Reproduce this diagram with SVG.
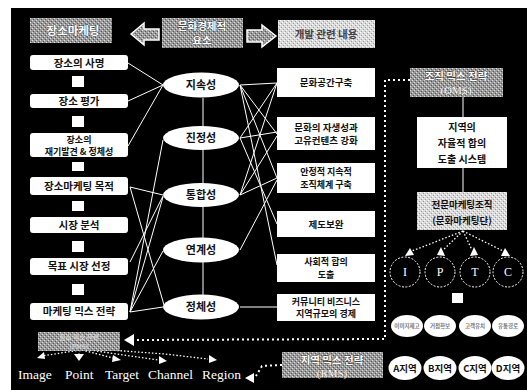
<svg xmlns="http://www.w3.org/2000/svg" width="527" height="390" viewBox="0 0 527 390">
<defs>
<pattern id="g1" width="4" height="4" patternUnits="userSpaceOnUse">
<rect width="4" height="4" fill="#9a9a9a"/>
<rect x="0" y="0" width="1" height="1" fill="#dedede"/>
<rect x="2" y="2" width="1" height="1" fill="#dedede"/>
<rect x="1" y="3" width="1" height="1" fill="#555"/>
<rect x="3" y="1" width="1" height="1" fill="#555"/>
</pattern>
<pattern id="g2" width="4" height="4" patternUnits="userSpaceOnUse">
<rect width="4" height="4" fill="#dadada"/>
<rect x="0" y="0" width="1" height="1" fill="#fff"/>
<rect x="2" y="2" width="1" height="1" fill="#fff"/>
<rect x="1" y="3" width="1" height="1" fill="#9a9a9a"/>
<rect x="3" y="1" width="1" height="1" fill="#9a9a9a"/>
</pattern>
<style>
.wbox{fill:#fff}
.gbox{fill:url(#g1)}
.lbox{fill:url(#g2)}
.kt{font-family:"Noto Sans CJK KR","Noto Sans",sans-serif;font-weight:700;fill:#111;text-anchor:middle}
.wt{fill:#fff;stroke:#333;stroke-width:0.7;paint-order:stroke}
.ws{fill:#fff;stroke:#444;stroke-width:0.4;paint-order:stroke}
.sf{font-family:"Liberation Serif","DejaVu Serif",serif}
.ln{stroke:#fff;stroke-width:1;fill:none}
.dot{stroke:#fff;stroke-width:2;stroke-dasharray:2 3;fill:none}
.sdot{stroke:#fff;stroke-width:1.3;stroke-dasharray:1.5 2;fill:none}
.tri{fill:#fff}
.sq{fill:#fff}
.cir{fill:none;stroke:#fff;stroke-width:1;stroke-dasharray:2 1.5}
</style>
</defs>
<rect x="11" y="8" width="516" height="382" fill="#000"/>

<g id="connectors">
<line class="ln" x1="128" y1="63" x2="163" y2="85"/>
<line class="ln" x1="128" y1="101" x2="163" y2="85"/>
<line class="ln" x1="128" y1="146" x2="163" y2="85"/>
<line class="ln" x1="130" y1="187" x2="163" y2="195"/>
<line class="ln" x1="130" y1="187" x2="164" y2="305"/>
<line class="ln" x1="130" y1="262" x2="163" y2="196"/>
<line class="ln" x1="130" y1="312" x2="163" y2="140"/>
<line class="ln" x1="130" y1="312" x2="163" y2="197"/>
<line class="ln" x1="130" y1="312" x2="163" y2="251"/>
<line class="ln" x1="130" y1="312" x2="163" y2="307"/>
<line class="ln" x1="203" y1="98" x2="203" y2="295"/>
<line class="ln" x1="240" y1="85" x2="277" y2="83"/>
<line class="ln" x1="240" y1="85" x2="277" y2="134"/>
<line class="ln" x1="240" y1="85" x2="277" y2="178"/>
<line class="ln" x1="240" y1="85" x2="277" y2="265"/>
<line class="ln" x1="240" y1="138" x2="277" y2="83"/>
<line class="ln" x1="240" y1="138" x2="277" y2="132"/>
<line class="ln" x1="240" y1="138" x2="277" y2="224"/>
<line class="ln" x1="240" y1="195" x2="277" y2="83"/>
<line class="ln" x1="240" y1="195" x2="277" y2="136"/>
<line class="ln" x1="240" y1="195" x2="277" y2="178"/>
<line class="ln" x1="240" y1="250" x2="277" y2="180"/>
<line class="ln" x1="240" y1="307" x2="277" y2="307"/>
<line class="ln" x1="463" y1="97" x2="463" y2="117"/>
<line class="ln" x1="463" y1="168" x2="463" y2="192"/>
<polyline class="dot" points="410,80 385,80 385,339 135,340"/>
<polygon class="tri" points="124,340 134,334 134,346"/>
<polyline class="dot" points="282,365 262,366 256,376"/>
<polygon class="tri" points="245,378 254,373 254,383"/>
<polyline class="sdot" points="80,350 42,356"/>
<polygon class="tri" points="37,358 44,352 45,359"/>
<line class="sdot" x1="80" y1="350" x2="79" y2="354"/>
<polygon class="tri" points="79,361 74,354 84,354"/>
<polyline class="sdot" points="82,350 113,358"/>
<polygon class="tri" points="121,360 113,355 112,362"/>
<polyline class="sdot" points="90,350 158,360"/>
<polygon class="tri" points="167,361 159,356 159,364"/>
<polyline class="sdot" points="110,350 165,354 208,359"/>
<polygon class="tri" points="217,360 209,355 209,363"/>
<line class="sdot" x1="463" y1="231" x2="412" y2="251"/>
<line class="sdot" x1="463" y1="231" x2="443" y2="250"/>
<line class="sdot" x1="463" y1="231" x2="472" y2="250"/>
<line class="sdot" x1="463" y1="231" x2="503" y2="251"/>
<polygon class="tri" points="410,248 405,256 414,255"/>
<polygon class="tri" points="441,247 437,255 445,256"/>
<polygon class="tri" points="474,247 470,256 478,255"/>
<polygon class="tri" points="505,248 501,256 510,256"/>
</g>

<g id="header-left">
<rect class="gbox" x="30" y="18" width="82" height="25"/>
<text class="kt wt" x="73" y="35" font-size="11.5">장소마케팅</text>
</g>
<g id="arrow-left">
<polygon points="131,34 144,23 144,29 159,29 159,40 144,40 144,45" fill="url(#g1)" stroke="#fff" stroke-width="1.5"/>
</g>
<g id="header-mid">
<rect class="gbox" x="162" y="18" width="81" height="30"/>
<text class="kt wt" x="202" y="30" font-size="10.5">문화경제적</text>
<text class="kt wt" x="202" y="44" font-size="10.5">요소</text>
</g>
<g id="arrow-right">
<polygon points="276,36 262,25 262,30 247,30 247,42 262,42 262,47" fill="url(#g1)" stroke="#fff" stroke-width="1.5"/>
</g>
<g id="header-right">
<rect class="lbox" x="278" y="20" width="97" height="28"/>
<text class="kt" x="326" y="38" font-size="10.5" style="fill:#444">개발 관련 내용</text>
</g>

<g id="left-steps">
<rect class="wbox" x="30" y="55" width="98" height="15" rx="3"/>
<text class="kt" x="79" y="67" font-size="10.5">장소의 사명</text>
<rect class="sq" x="72" y="76" width="12" height="11"/>
<rect class="wbox" x="30" y="94" width="98" height="14" rx="3"/>
<text class="kt" x="79" y="105" font-size="10.5">장소 평가</text>
<rect class="sq" x="72" y="116" width="12" height="11"/>
<rect class="wbox" x="30" y="133" width="98" height="24" rx="3"/>
<text class="kt" x="79" y="143" font-size="9">장소의</text>
<text class="kt" x="79" y="155" font-size="9">재기발견 &amp; 정체성</text>
<rect class="sq" x="72" y="162" width="12" height="9"/>
<rect class="wbox" x="30" y="177" width="98" height="18" rx="3"/>
<text class="kt" x="79" y="190" font-size="10.5">장소마케팅 목적</text>
<rect class="sq" x="72" y="201" width="12" height="10"/>
<rect class="wbox" x="30" y="217" width="98" height="16" rx="3"/>
<text class="kt" x="79" y="229" font-size="10.5">시장 분석</text>
<rect class="sq" x="72" y="241" width="12" height="11"/>
<rect class="wbox" x="30" y="258" width="98" height="17" rx="3"/>
<text class="kt" x="79" y="270" font-size="10.5">목표 시장 선정</text>
<rect class="sq" x="72" y="284" width="12" height="11"/>
<rect class="wbox" x="30" y="303" width="98" height="17" rx="3"/>
<text class="kt" x="79" y="315" font-size="10.5">마케팅 믹스 전략</text>
</g>

<g id="left-mix">
<rect class="gbox" x="38" y="332" width="82" height="19"/>
<text class="kt" x="79" y="340" font-size="6.5" style="fill:#cfcfcf">장소 믹스 전략</text>
<text class="kt" x="79" y="349" font-size="6.5" style="fill:#cfcfcf">(PMS)</text>
</g>
<g id="mix-labels" class="sf" font-size="13.5" fill="#fff">
<text x="18" y="379">Image</text>
<text x="65" y="379">Point</text>
<text x="105" y="379">Target</text>
<text x="148" y="379">Channel</text>
<text x="202" y="379">Region</text>
</g>

<g id="values">
<ellipse class="wbox" cx="201" cy="85" rx="38" ry="12.5"/>
<text class="kt" x="201" y="89" font-size="11">지속성</text>
<ellipse class="wbox" cx="201" cy="138" rx="38" ry="12"/>
<text class="kt" x="201" y="142" font-size="11">진정성</text>
<ellipse class="wbox" cx="201" cy="195" rx="38" ry="12"/>
<text class="kt" x="201" y="199" font-size="11">통합성</text>
<ellipse class="wbox" cx="201" cy="250" rx="38" ry="12.5"/>
<text class="kt" x="201" y="254" font-size="11">연계성</text>
<ellipse class="wbox" cx="201" cy="307" rx="38" ry="12.5"/>
<text class="kt" x="201" y="311" font-size="11">정체성</text>
</g>

<g id="contents">
<rect class="wbox" x="277" y="68" width="98" height="29"/>
<text class="kt" x="326" y="86" font-size="9.5">문화공간구축</text>
<rect class="wbox" x="277" y="117" width="98" height="33"/>
<text class="kt" x="326" y="131" font-size="9.5">문화의 자생성과</text>
<text class="kt" x="326" y="144" font-size="9.5">고유컨텐츠 강화</text>
<rect class="wbox" x="277" y="163" width="98" height="30"/>
<text class="kt" x="326" y="175" font-size="9">안정적 지속적</text>
<text class="kt" x="326" y="188" font-size="9">조직체계 구축</text>
<rect class="wbox" x="277" y="211" width="98" height="26"/>
<text class="kt" x="326" y="228" font-size="9.5">제도보완</text>
<rect class="wbox" x="277" y="254" width="98" height="28"/>
<text class="kt" x="326" y="265" font-size="9">사회적 합의</text>
<text class="kt" x="326" y="278" font-size="9">도출</text>
<rect class="wbox" x="277" y="294" width="98" height="27"/>
<text class="kt" x="326" y="305" font-size="9">커뮤니티 비즈니스</text>
<text class="kt" x="326" y="317" font-size="9">지역규모의 경제</text>
</g>

<g id="oms">
<rect class="gbox" x="410" y="68" width="93" height="29"/>
<text class="kt wt" x="456" y="80" font-size="10.5">조직 믹스 전략</text>
<text class="sf ws" x="456" y="94" font-size="11" text-anchor="middle">(OMS)</text>
</g>
<g id="consensus">
<rect class="wbox" x="417" y="117" width="90" height="51"/>
<text class="kt" x="462" y="131" font-size="10">지역의</text>
<text class="kt" x="462" y="147" font-size="10">자율적 합의</text>
<text class="kt" x="462" y="163" font-size="10">도출 시스템</text>
</g>
<g id="org">
<rect class="lbox" x="417" y="192" width="90" height="38"/>
<text class="kt" x="462" y="208" font-size="9.5">전문마케팅조직</text>
<text class="kt" x="462" y="224" font-size="9.5">(문화마케팅단)</text>
</g>

<g id="iptc" class="sf" font-size="12" fill="#fff" text-anchor="middle">
<circle class="cir" cx="405" cy="272" r="15"/>
<text x="405" y="276">I</text>
<circle class="cir" cx="440" cy="272" r="15"/>
<text x="440" y="276">P</text>
<circle class="cir" cx="475" cy="272" r="15"/>
<text x="475" y="276">T</text>
<circle class="cir" cx="508" cy="272" r="15"/>
<text x="508" y="276">C</text>
</g>
<rect class="sq" x="452" y="293" width="11" height="10"/>

<g id="effects">
<ellipse class="wbox" cx="407" cy="326" rx="16" ry="11"/>
<text class="kt" x="407" y="328" font-size="5.5" style="fill:#777">이미지제고</text>
<ellipse class="wbox" cx="440" cy="326" rx="16" ry="11"/>
<text class="kt" x="440" y="328" font-size="5.5" style="fill:#777">거점확보</text>
<ellipse class="wbox" cx="475" cy="326" rx="16" ry="11"/>
<text class="kt" x="475" y="328" font-size="5.5" style="fill:#777">고객유치</text>
<ellipse class="wbox" cx="508" cy="326" rx="16" ry="11"/>
<text class="kt" x="508" y="328" font-size="5.5" style="fill:#777">유통경로</text>
</g>

<g id="rms">
<rect class="gbox" x="282" y="352" width="101" height="26"/>
<text class="kt wt" x="332" y="364" font-size="10.5">지역 믹스 전략</text>
<text class="sf ws" x="332" y="377" font-size="11" text-anchor="middle">(RMS)</text>
</g>

<g id="regions">
<ellipse class="wbox" cx="405" cy="368" rx="16.5" ry="12"/>
<text class="kt" x="405" y="372" font-size="9.5">A지역</text>
<ellipse class="wbox" cx="440" cy="368" rx="16.5" ry="12"/>
<text class="kt" x="440" y="372" font-size="9.5">B지역</text>
<ellipse class="wbox" cx="475" cy="368" rx="16.5" ry="12"/>
<text class="kt" x="475" y="372" font-size="9.5">C지역</text>
<ellipse class="wbox" cx="508" cy="368" rx="16.5" ry="12"/>
<text class="kt" x="508" y="372" font-size="9.5">D지역</text>
</g>
</svg>
